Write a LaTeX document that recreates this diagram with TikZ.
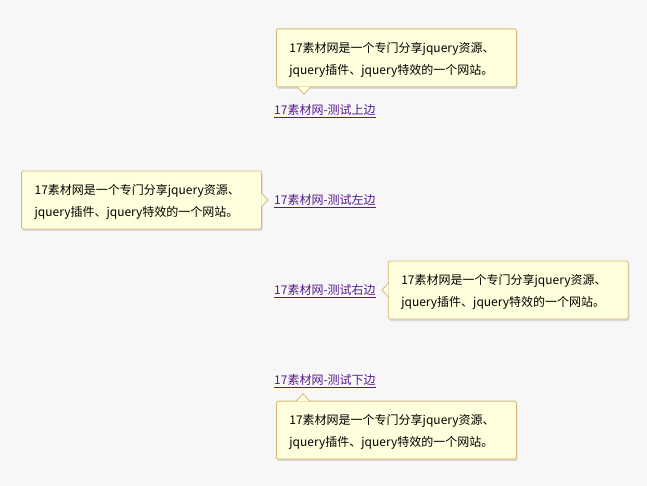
\documentclass[tikz,border=0pt]{standalone}
\usepackage{fontspec}
\setmainfont{Noto Sans CJK SC}
\usetikzlibrary{positioning, calc, shadows}
\definecolor{pagebg}{HTML}{F7F7F7}
\definecolor{tipfill}{HTML}{FFFFDD}
\definecolor{tipline}{HTML}{D5B77C}
\definecolor{linkcol}{HTML}{551A8B}
\newcommand{\tiptext}{\rule{0pt}{14.5pt}17素材网是一个专门分享jquery资源、\\jquery插件、jquery特效的一个网站。}

\begin{document}
\begin{tikzpicture}[x=1pt, y=-1pt,
  tipbox/.style={draw=tipline, fill=tipfill, rounded corners=2pt, line width=0.8pt,
    text width=214pt, inner xsep=13pt, inner ysep=0pt, minimum height=58pt, align=left,
    font=\fontsize{12}{22}\selectfont,
    drop shadow={shadow xshift=1pt, shadow yshift=-2pt, opacity=0.25}},
  tiplink/.style={inner sep=0pt, anchor=west, text=linkcol, font=\fontsize{12}{14}\selectfont},
  tippoint/.style={draw=tipline, fill=tipfill, line width=0.8pt, line join=miter}]
  \fill[pagebg] (0,0) rectangle (647,486);
  \useasboundingbox (0,0) rectangle (647,486);

  % links
  \node[tiplink] (linkT) at (274,111) {\underline{17素材网-测试上边}};
  \node[tiplink] (linkL) at (274,201) {\underline{17素材网-测试左边}};
  \node[tiplink] (linkR) at (274,291) {\underline{17素材网-测试右边}};
  \node[tiplink] (linkB) at (274,381) {\underline{17素材网-测试下边}};

  % tooltips
  \node[tipbox, above=17pt of linkT.north west, anchor=south west, xshift=2pt] (boxT) {\tiptext};
  \node[tipbox, left=12pt of linkL, yshift=1pt] (boxL) {\tiptext};
  \node[tipbox, right=12pt of linkR, yshift=1pt] (boxR) {\tiptext};
  \node[tipbox, below=13pt of linkB.south west, anchor=north west, xshift=2pt] (boxB) {\tiptext};

  % pointers
  \coordinate (tipT) at ($(boxT.south west)+(28,7)$);
  \coordinate (tipL) at ($(boxL.east)+(6,0)$);
  \coordinate (tipR) at ($(boxR.west)+(-6,0)$);
  \coordinate (tipB) at ($(boxB.north west)+(27,-7)$);
  \filldraw[tippoint] ($(tipT)+(-7,-7.6)$) -- (tipT) -- ($(tipT)+(7,-7.6)$);
  \filldraw[tippoint] ($(tipL)+(-6.6,-7)$) -- (tipL) -- ($(tipL)+(-6.6,7)$);
  \filldraw[tippoint] ($(tipR)+(6.6,-7)$) -- (tipR) -- ($(tipR)+(6.6,7)$);
  \filldraw[tippoint] ($(tipB)+(-7,7.6)$) -- (tipB) -- ($(tipB)+(7,7.6)$);
\end{tikzpicture}
\end{document}
